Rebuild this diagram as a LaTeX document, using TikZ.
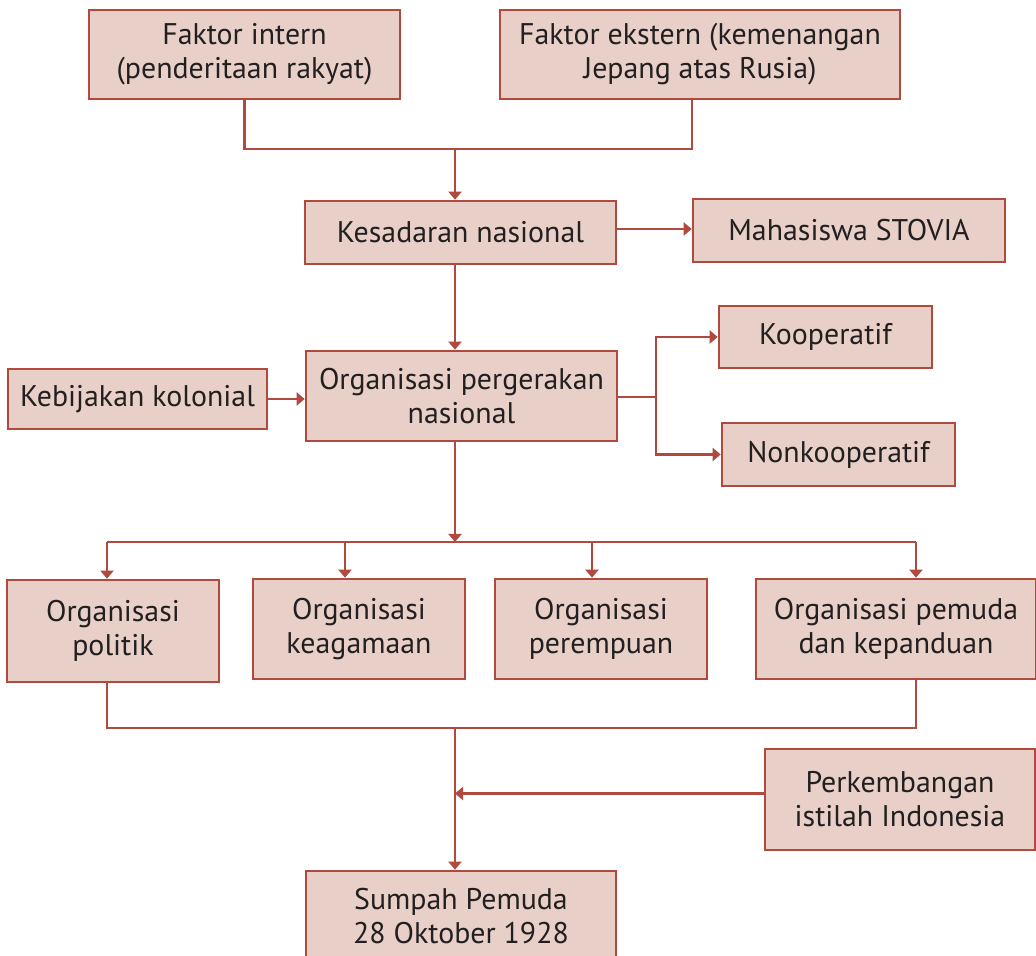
\documentclass[tikz,border=0pt]{standalone}
\usepackage{fontspec}
\setmainfont{PT Sans}
\usetikzlibrary{arrows.meta}
\definecolor{bata}{RGB}{176,74,62}
\definecolor{krem}{RGB}{232,208,200}
\definecolor{tinta}{RGB}{35,31,32}
\tikzset{
  kotak/.style={draw=bata, fill=krem, line width=1.5pt, align=center, inner sep=0pt,
    text=tinta, font=\fontsize{17}{19.3}\selectfont},
  garis/.style={draw=bata, line width=1.3pt},
  panah/.style={garis, -{Triangle[length=1.6mm,width=2.6mm]}}
}
\begin{document}
\begin{tikzpicture}
\useasboundingbox (0,0) rectangle (20.72,-19.12);

\node[kotak, minimum width=6.22cm, minimum height=1.78cm] (intern) at (4.89,-1.09) {Faktor intern\\(penderitaan rakyat)};
\node[kotak, minimum width=8cm, minimum height=1.78cm] (ekstern) at (14,-1.09) {Faktor ekstern (kemenangan\\Jepang atas Rusia)};
\node[kotak, minimum width=6.22cm, minimum height=1.26cm] (sadar) at (9.21,-4.65) {Kesadaran nasional};
\node[kotak, minimum width=6.24cm, minimum height=1.26cm] (stovia) at (16.98,-4.61) {Mahasiswa STOVIA};
\node[kotak, minimum width=6.22cm, minimum height=1.8cm] (gerak) at (9.23,-7.92) {Organisasi pergerakan\\nasional};
\node[kotak, minimum width=5.18cm, minimum height=1.2cm] (kolonial) at (2.75,-7.98) {Kebijakan kolonial};
\node[kotak, minimum width=4.26cm, minimum height=1.24cm] (koop) at (16.51,-6.74) {Kooperatif};
\node[kotak, minimum width=4.66cm, minimum height=1.26cm] (nonkoop) at (16.77,-9.09) {Nonkooperatif};

\node[kotak, minimum width=4.24cm, minimum height=2.04cm] (politik) at (2.26,-12.62) {Organisasi\\politik};
\node[kotak, minimum width=4.24cm, minimum height=2cm] (agama) at (7.18,-12.58) {Organisasi\\keagamaan};
\node[kotak, minimum width=4.24cm, minimum height=2cm] (perempuan) at (12.02,-12.58) {Organisasi\\perempuan};
\node[kotak, minimum width=5.6cm, minimum height=2cm] (pemuda) at (17.92,-12.58) {Organisasi pemuda\\dan kepanduan};
\node[kotak, minimum width=5.4cm, minimum height=2.02cm] (istilah) at (18.0,-15.99) {Perkembangan\\istilah Indonesia};
\node[kotak, minimum width=6.2cm, minimum height=1.8cm] (sumpah) at (9.22,-18.32) {Sumpah Pemuda\\28 Oktober 1928};

\coordinate (gabung) at (9.1,-2.98);
\coordinate (cabang) at (13.12,-7.94);
\coordinate (bagi) at (9.1,-10.84);
\coordinate (kumpul) at (9.1,-14.56);
\coordinate (p1) at (2.14,-10.84);
\coordinate (p2) at (6.9,-10.84);
\coordinate (p3) at (11.84,-10.84);
\coordinate (p4) at (18.32,-10.84);

\draw[garis] (intern.south) |- (gabung) -| ([xshift=-0.16cm]ekstern.south);
\draw[panah] (gabung) -- (gabung |- sadar.north);
\draw[panah] ([yshift=0.07cm]sadar.east) -- ([yshift=0.07cm]sadar.east -| stovia.west);
\draw[panah] (gabung |- sadar.south) -- (gabung |- gerak.north);
\draw[panah] (kolonial.east) -- (kolonial.east -| gerak.west);

\draw[garis] (gerak.east |- cabang) -- (cabang);
\draw[panah] (cabang) |- (koop.west);
\draw[panah] (cabang) |- (nonkoop.west);

\draw[panah] (gabung |- gerak.south) -- (bagi);
\draw[garis] (p1) -- (p4);
\foreach \p/\n in {p1/politik, p2/agama, p3/perempuan, p4/pemuda}
  \draw[panah] (\p) -- (\p |- \n.north);

\draw[garis] (p1 |- politik.south) |- (kumpul) -| (p4 |- pemuda.south);
\draw[panah] (kumpul) -- (kumpul |- sumpah.north);
\draw[panah] ([yshift=0.12cm]istilah.west) -- ([yshift=0.12cm]istilah.west -| kumpul);
\end{tikzpicture}
\end{document}
